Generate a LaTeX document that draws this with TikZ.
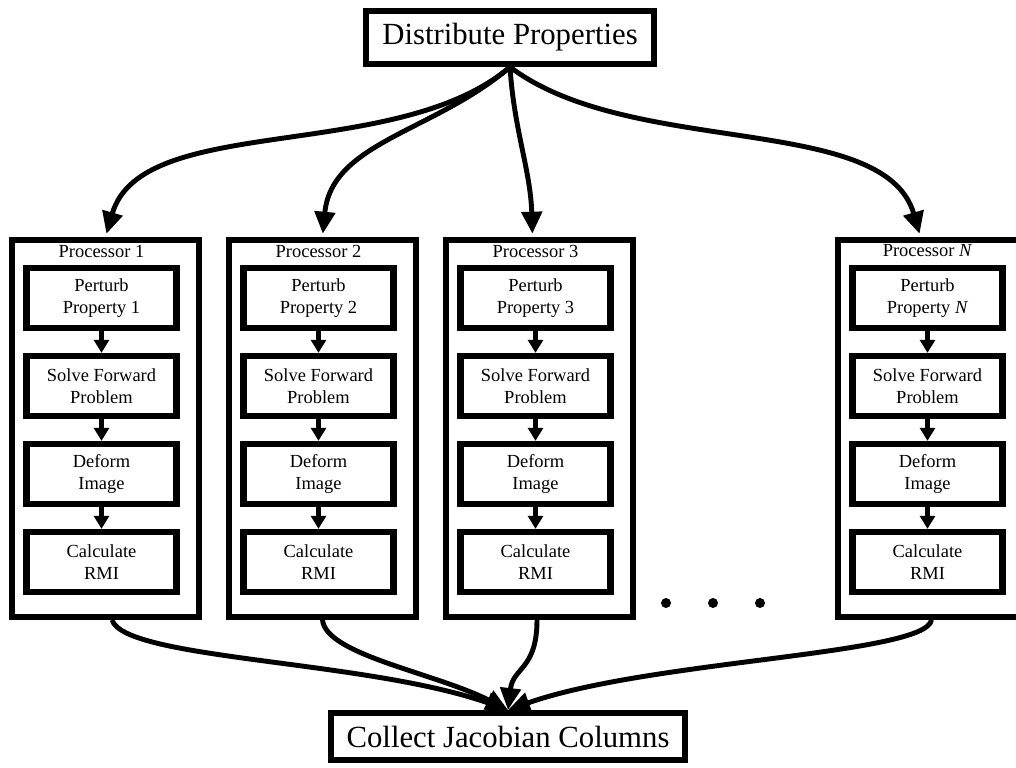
\documentclass[tikz,border=0pt]{standalone}
\usepackage{fontspec}
\setmainfont{Liberation Serif}
\usetikzlibrary{arrows.meta}

\tikzset{
  bigbox/.style={draw, line width=3.4pt, inner sep=0pt, font=\fontsize{17.5}{20}\selectfont},
  procbox/.style={draw, line width=3.2pt, minimum width=3.74cm, minimum height=7.54cm, inner sep=0pt},
  proclabel/.style={inner sep=0pt, font=\fontsize{10.5}{12.5}\selectfont},
  stepbox/.style={draw, line width=3.6pt, minimum width=3cm, minimum height=1.2cm, inner sep=0pt,
    align=center, font=\fontsize{10.5}{12.5}\selectfont},
  flow/.style={line width=2.8pt, -{Triangle[length=12.5pt, width=11.5pt]}},
  link/.style={line width=2.4pt, -{Triangle[length=7.4pt, width=8.5pt]}},
}

\begin{document}
\begin{tikzpicture}
    \useasboundingbox (0, 0) rectangle (20.32, -15.36);

    \node [bigbox, minimum width=5.76cm, minimum height=1.06cm] (dist) at (10.2, -0.75) {Distribute Properties};
    \node [bigbox, minimum width=7.08cm, minimum height=0.94cm] (coll) at (10.16, -14.73) {Collect Jacobian Columns};

    \begin{scope}[shift={(0, 0)}]
      \node [procbox] (out1) at (2.11, -8.57) {};
      \node [proclabel] (lab1) at (2.03, -5.02) {Processor 1};
      \node [stepbox] (pert1) at (2.03, -5.96) {Perturb\\Property 1};
      \node [stepbox] (solve1) at (2.03, -7.72) {Solve Forward\\Problem};
      \node [stepbox] (deform1) at (2.03, -9.48) {Deform\\Image};
      \node [stepbox] (rmi1) at (2.03, -11.24) {Calculate\\RMI};
      \draw [link] (pert1) -- (solve1);
      \draw [link] (solve1) -- (deform1);
      \draw [link] (deform1) -- (rmi1);
    \end{scope}

    \begin{scope}[shift={(4.34, 0)}]
      \node [procbox] (out2) at (2.11, -8.57) {};
      \node [proclabel] (lab2) at (2.03, -5.02) {Processor 2};
      \node [stepbox] (pert2) at (2.03, -5.96) {Perturb\\Property 2};
      \node [stepbox] (solve2) at (2.03, -7.72) {Solve Forward\\Problem};
      \node [stepbox] (deform2) at (2.03, -9.48) {Deform\\Image};
      \node [stepbox] (rmi2) at (2.03, -11.24) {Calculate\\RMI};
      \draw [link] (pert2) -- (solve2);
      \draw [link] (solve2) -- (deform2);
      \draw [link] (deform2) -- (rmi2);
    \end{scope}

    \begin{scope}[shift={(8.68, 0)}]
      \node [procbox] (out3) at (2.11, -8.57) {};
      \node [proclabel] (lab3) at (2.03, -5.02) {Processor 3};
      \node [stepbox] (pert3) at (2.03, -5.96) {Perturb\\Property 3};
      \node [stepbox] (solve3) at (2.03, -7.72) {Solve Forward\\Problem};
      \node [stepbox] (deform3) at (2.03, -9.48) {Deform\\Image};
      \node [stepbox] (rmi3) at (2.03, -11.24) {Calculate\\RMI};
      \draw [link] (pert3) -- (solve3);
      \draw [link] (solve3) -- (deform3);
      \draw [link] (deform3) -- (rmi3);
    \end{scope}

    \begin{scope}[shift={(16.52, 0)}]
      \node [procbox] (outN) at (2.11, -8.57) {};
      \node [proclabel] (labN) at (2.03, -5.02) {Processor \textit{N}};
      \node [stepbox] (pertN) at (2.03, -5.96) {Perturb\\Property \textit{N}};
      \node [stepbox] (solveN) at (2.03, -7.72) {Solve Forward\\Problem};
      \node [stepbox] (deformN) at (2.03, -9.48) {Deform\\Image};
      \node [stepbox] (rmiN) at (2.03, -11.24) {Calculate\\RMI};
      \draw [link] (pertN) -- (solveN);
      \draw [link] (solveN) -- (deformN);
      \draw [link] (deformN) -- (rmiN);
    \end{scope}

    % dots between column 3 and column N
    \fill (13.32, -12.06) circle (0.1);
    \fill (14.26, -12.06) circle (0.1);
    \fill (15.20, -12.06) circle (0.1);

    % distribute
    \draw [flow, shorten >=2pt] (dist.south) .. controls +(-2.28, -1.94) and +(0.72, 2.5) .. (out1.north);
    \draw [flow, shorten >=2pt] (dist.south) .. controls +(-1.52, -1.3) and +(0.18, 1.9) .. (out2.north);
    \draw [flow, shorten >=2pt] (dist.south) .. controls +(0.08, -1.26) and +(-0.04, 1.34) .. ([xshift=-0.14cm]out3.north);
    \draw [flow, shorten >=2pt] (dist.south) .. controls +(2.4, -1.82) and +(-0.72, 2.5) .. ([xshift=-0.22cm]outN.north);

    % collect
    \draw [flow] ([xshift=0.13cm]out1.south) .. controls +(0.24, -0.8) and +(-2.82, 1.0) .. (coll.north);
    \draw [flow] (out2.south) .. controls +(0.06, -0.7) and +(-1.44, 0.74) .. (coll.north);
    \draw [flow] ([xshift=-0.05cm]out3.south) .. controls +(0, -1.0) and +(0.1, 0.86) .. (coll.north);
    \draw [flow] (outN.south) .. controls +(-0.1, -0.7) and +(2.82, 1.0) .. (coll.north);
  \end{tikzpicture}
\end{document}
